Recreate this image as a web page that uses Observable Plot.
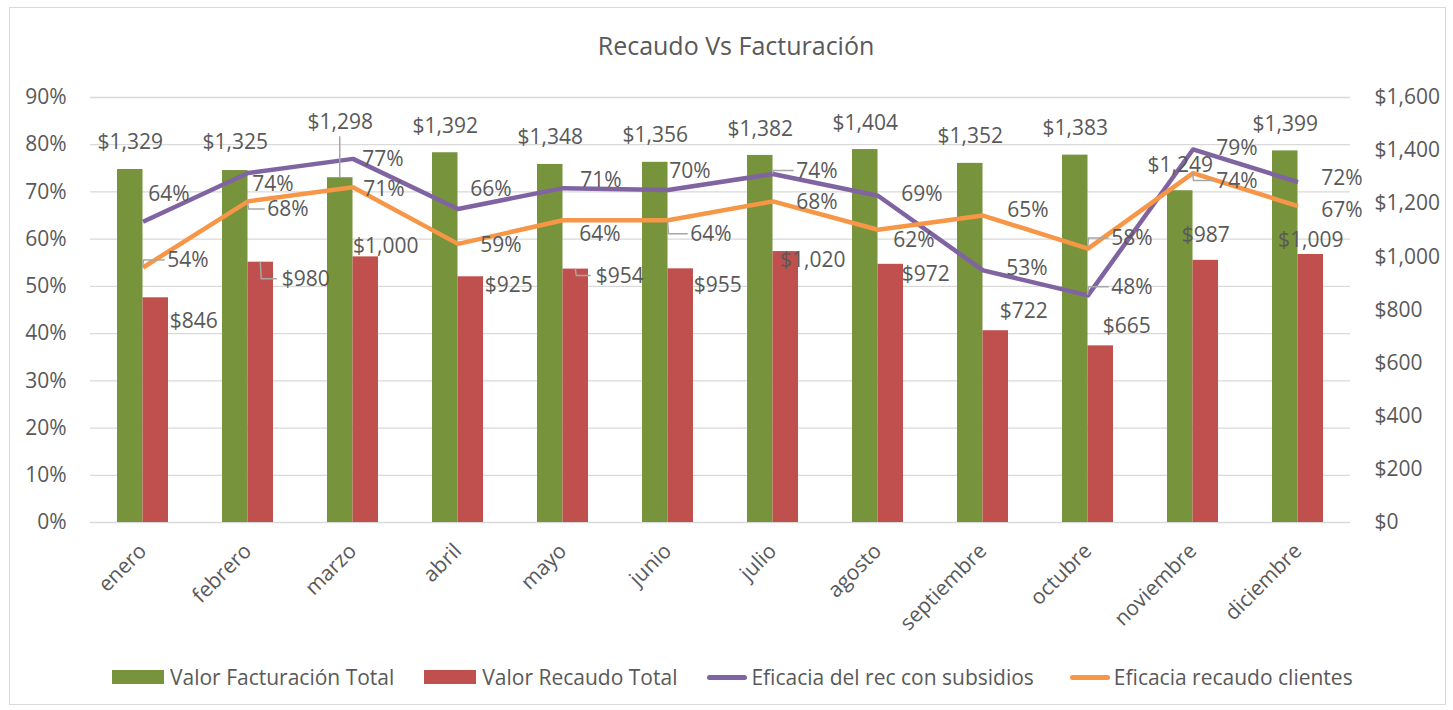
<!DOCTYPE html>
<html>
<head>
<meta charset="utf-8">
<script src="https://cdn.jsdelivr.net/npm/d3@7"></script>
<script src="https://cdn.jsdelivr.net/npm/@observablehq/plot@0.6"></script>
<style>
  html, body { margin: 0; padding: 0; background: #fff; }
  #wrap { position: relative; width: 1453px; height: 710px; font-family: "Open Sans", Lato, sans-serif; color: #595959; overflow: hidden; }
  #frame { position: absolute; left: 9px; top: 7px; width: 1437px; height: 698px; border: 1px solid #d9d9d9; box-sizing: border-box; }
  #title { position: absolute; left: 0; width: 1472px; top: 30px; text-align: center; font-size: 25px; line-height: 30px; }
  #chart { position: absolute; left: 0; top: 70px; }
  #legend { position: absolute; left: 112px; top: 662px; height: 30px; display: flex; align-items: center; font-size: 21px; }
  .item { display: flex; align-items: center; margin-right: 30px; }
  .item.l { margin-right: 36px; }
  .sw { width: 52px; height: 14px; margin-right: 6px; }
  .ln { width: 40px; height: 5px; border-radius: 3px; margin-right: 4px; }
</style>
</head>
<body>
<div id="wrap">
  <div id="frame"></div>
  <div id="title">Recaudo Vs Facturación</div>
  <div id="chart"></div>
  <div id="legend"></div>
</div>
<script>
// ---- data ----
const months = ["enero","febrero","marzo","abril","mayo","junio","julio","agosto","septiembre","octubre","noviembre","diciembre"];
const facturacion = [1329, 1325, 1298, 1392, 1348, 1356, 1382, 1404, 1352, 1383, 1249, 1399];
const recaudo = [846, 980, 1000, 925, 954, 955, 1020, 972, 722, 665, 987, 1009];
const eficaciaSubsidios = [63.7, 74.0, 77.0, 66.4, 70.8, 70.4, 73.8, 69.2, 53.4, 48.1, 79.0, 72.1];
const eficaciaClientes = [54, 68, 71, 59, 64, 64, 68, 62, 65, 58, 74, 67];
const pctTicks = [0, 10, 20, 30, 40, 50, 60, 70, 80, 90];
const dollarTicks = [0, 200, 400, 600, 800, 1000, 1200, 1400, 1600];
const seriesNames = ["Valor Facturación Total", "Valor Recaudo Total", "Eficacia del rec con subsidios", "Eficacia recaudo clientes"];
const colors = ["#77933C", "#C0504D", "#8064A2", "#F79646"];

// ---- label layout (pixel nudges of the data labels) ----
const factNudge = [[0,-27],[0,-28],[0,-55],[0,-26],[0,-27],[0,-27],[0,-26],[0,-26],[0,-27],[0,-27],[0,-25],[0,-27]];
const recNudge = [[38,23],[45,17],[20,-11],[38,8],[44,7],[37,16],[27,9],[35,10],[28,-19],[26,-20],[0,-25],[0,-14]];
const subNudge = [[26,-27],[25,11],[30,0],[33,-20],[38,-8],[22,-19],[44,-3],[44,-1],[44,-2],[44,-8],[44,-1],[44,-4]];
const cliNudge = [[45,-7],[40,8],[31,2],[43,1],[37,14],[43,14],[44,1],[36,11],[45,-5],[44,-10],[44,8],[44,4]];
const leaders = [["fact",2],["cli",0],["cli",1],["rec",1],["rec",4],["cli",5],["sub",6],["cli",9],["sub",9],["cli",10]];

// right axis ($0–$1,600) shares the frame with the left axis (0–90%)
const maxDollar = 1600, maxPct = 90;
const toPct = v => v * maxPct / maxDollar;
const fmtN = d3.format(",");
const fmtUSD = v => "$" + fmtN(v);
const fmtPct = v => Math.round(v) + "%";

const rows = months.map((m, i) => ({m, fact: facturacion[i], rec: recaudo[i], sub: eficaciaSubsidios[i], cli: eficaciaClientes[i]}));

const BW = 51, HALF = BW / 4; // bandwidth and offset of each bar's center
const FS = 21, TXT = "#595959";

const labelMarks = [];
function addLabel(m, y, text, dx, dy) {
  labelMarks.push(Plot.text([{m, y, text}], {x: "m", y: "y", text: "text", dx, dy, fill: TXT, fontSize: FS}));
}
rows.forEach((d, i) => {
  addLabel(d.m, toPct(d.fact), fmtUSD(d.fact), -HALF + factNudge[i][0], factNudge[i][1]);
  addLabel(d.m, toPct(d.rec), fmtUSD(d.rec), HALF + recNudge[i][0], recNudge[i][1]);
  addLabel(d.m, d.sub, fmtPct(d.sub), subNudge[i][0], subNudge[i][1]);
  addLabel(d.m, d.cli, fmtPct(d.cli), cliNudge[i][0], cliNudge[i][1]);
});

const chart = Plot.plot({
  width: 1453,
  height: 570,
  marginTop: 27,
  marginBottom: 118,
  marginLeft: 90,
  marginRight: 103,
  style: {fontFamily: '"Open Sans", Lato, sans-serif', fontSize: FS + "px", color: TXT, background: "transparent", overflow: "visible"},
  x: {type: "band", domain: months, paddingInner: 1 - BW / 105, paddingOuter: (1 - BW / 105) / 2},
  y: {domain: [0, maxPct]},
  marks: [
    Plot.gridY(pctTicks, {stroke: "#d9d9d9", strokeOpacity: 1, strokeWidth: 1.3}),
    Plot.barY(rows, {x: "m", y: d => toPct(d.fact), fill: colors[0], insetRight: BW / 2}),
    Plot.barY(rows, {x: "m", y: d => toPct(d.rec), fill: colors[1], insetLeft: BW / 2}),
    Plot.line(rows, {x: "m", y: "sub", stroke: colors[2], strokeWidth: 4.5, strokeLinejoin: "round", strokeLinecap: "butt"}),
    Plot.line(rows, {x: "m", y: "cli", stroke: colors[3], strokeWidth: 4.5, strokeLinejoin: "round", strokeLinecap: "butt"}),
    Plot.axisY(pctTicks, {anchor: "left", tickFormat: d => d + "%", tickSize: 0, tickPadding: 24, label: null, fontSize: FS}),
    Plot.axisY(dollarTicks.map(toPct), {anchor: "right", tickFormat: d => fmtUSD(Math.round(d * maxDollar / maxPct)), tickSize: 0, tickPadding: 24, label: null, fontSize: FS}),
    Plot.axisX({tickRotate: -45, tickSize: 0, tickPadding: 25, label: null, fontSize: FS}),
    ...labelMarks
  ]
});
document.getElementById("chart").appendChild(chart);

// leader lines for moved data labels, positioned through Plot's scales
const sx = chart.scale("x"), sy = chart.scale("y");
const cx = m => sx.apply(m) + sx.bandwidth / 2;
const g = d3.select(chart).append("g").attr("fill", "none").attr("stroke", "#a6a6a6").attr("stroke-width", 1.5);
leaders.forEach(([s, i]) => {
  const d = rows[i];
  let px, py, nd, text;
  if (s === "fact") { px = cx(d.m) - HALF; py = sy.apply(toPct(d.fact)); nd = factNudge[i]; text = fmtUSD(d.fact); }
  if (s === "rec") { px = cx(d.m) + HALF; py = sy.apply(toPct(d.rec)); nd = recNudge[i]; text = fmtUSD(d.rec); }
  if (s === "sub") { px = cx(d.m); py = sy.apply(d.sub); nd = subNudge[i]; text = fmtPct(d.sub); }
  if (s === "cli") { px = cx(d.m); py = sy.apply(d.cli); nd = cliNudge[i]; text = fmtPct(d.cli); }
  const lx = px + nd[0], ly = py + nd[1];
  let path;
  if (nd[0] === 0) path = `M${px},${py}L${px},${ly + 14}`;
  else path = `M${px},${py}L${px + 1},${ly}L${lx - text.length * 5.6 - 6},${ly}`;
  g.append("path").attr("d", path);
});

// legend
const legend = document.getElementById("legend");
seriesNames.forEach((name, i) => {
  const it = document.createElement("div");
  it.className = i === 2 ? "item l" : "item";
  const sw = document.createElement("div");
  sw.className = i < 2 ? "sw" : "ln";
  sw.style.background = colors[i];
  const t = document.createElement("span");
  t.textContent = name;
  it.appendChild(sw); it.appendChild(t);
  legend.appendChild(it);
});
</script>
</body>
</html>
